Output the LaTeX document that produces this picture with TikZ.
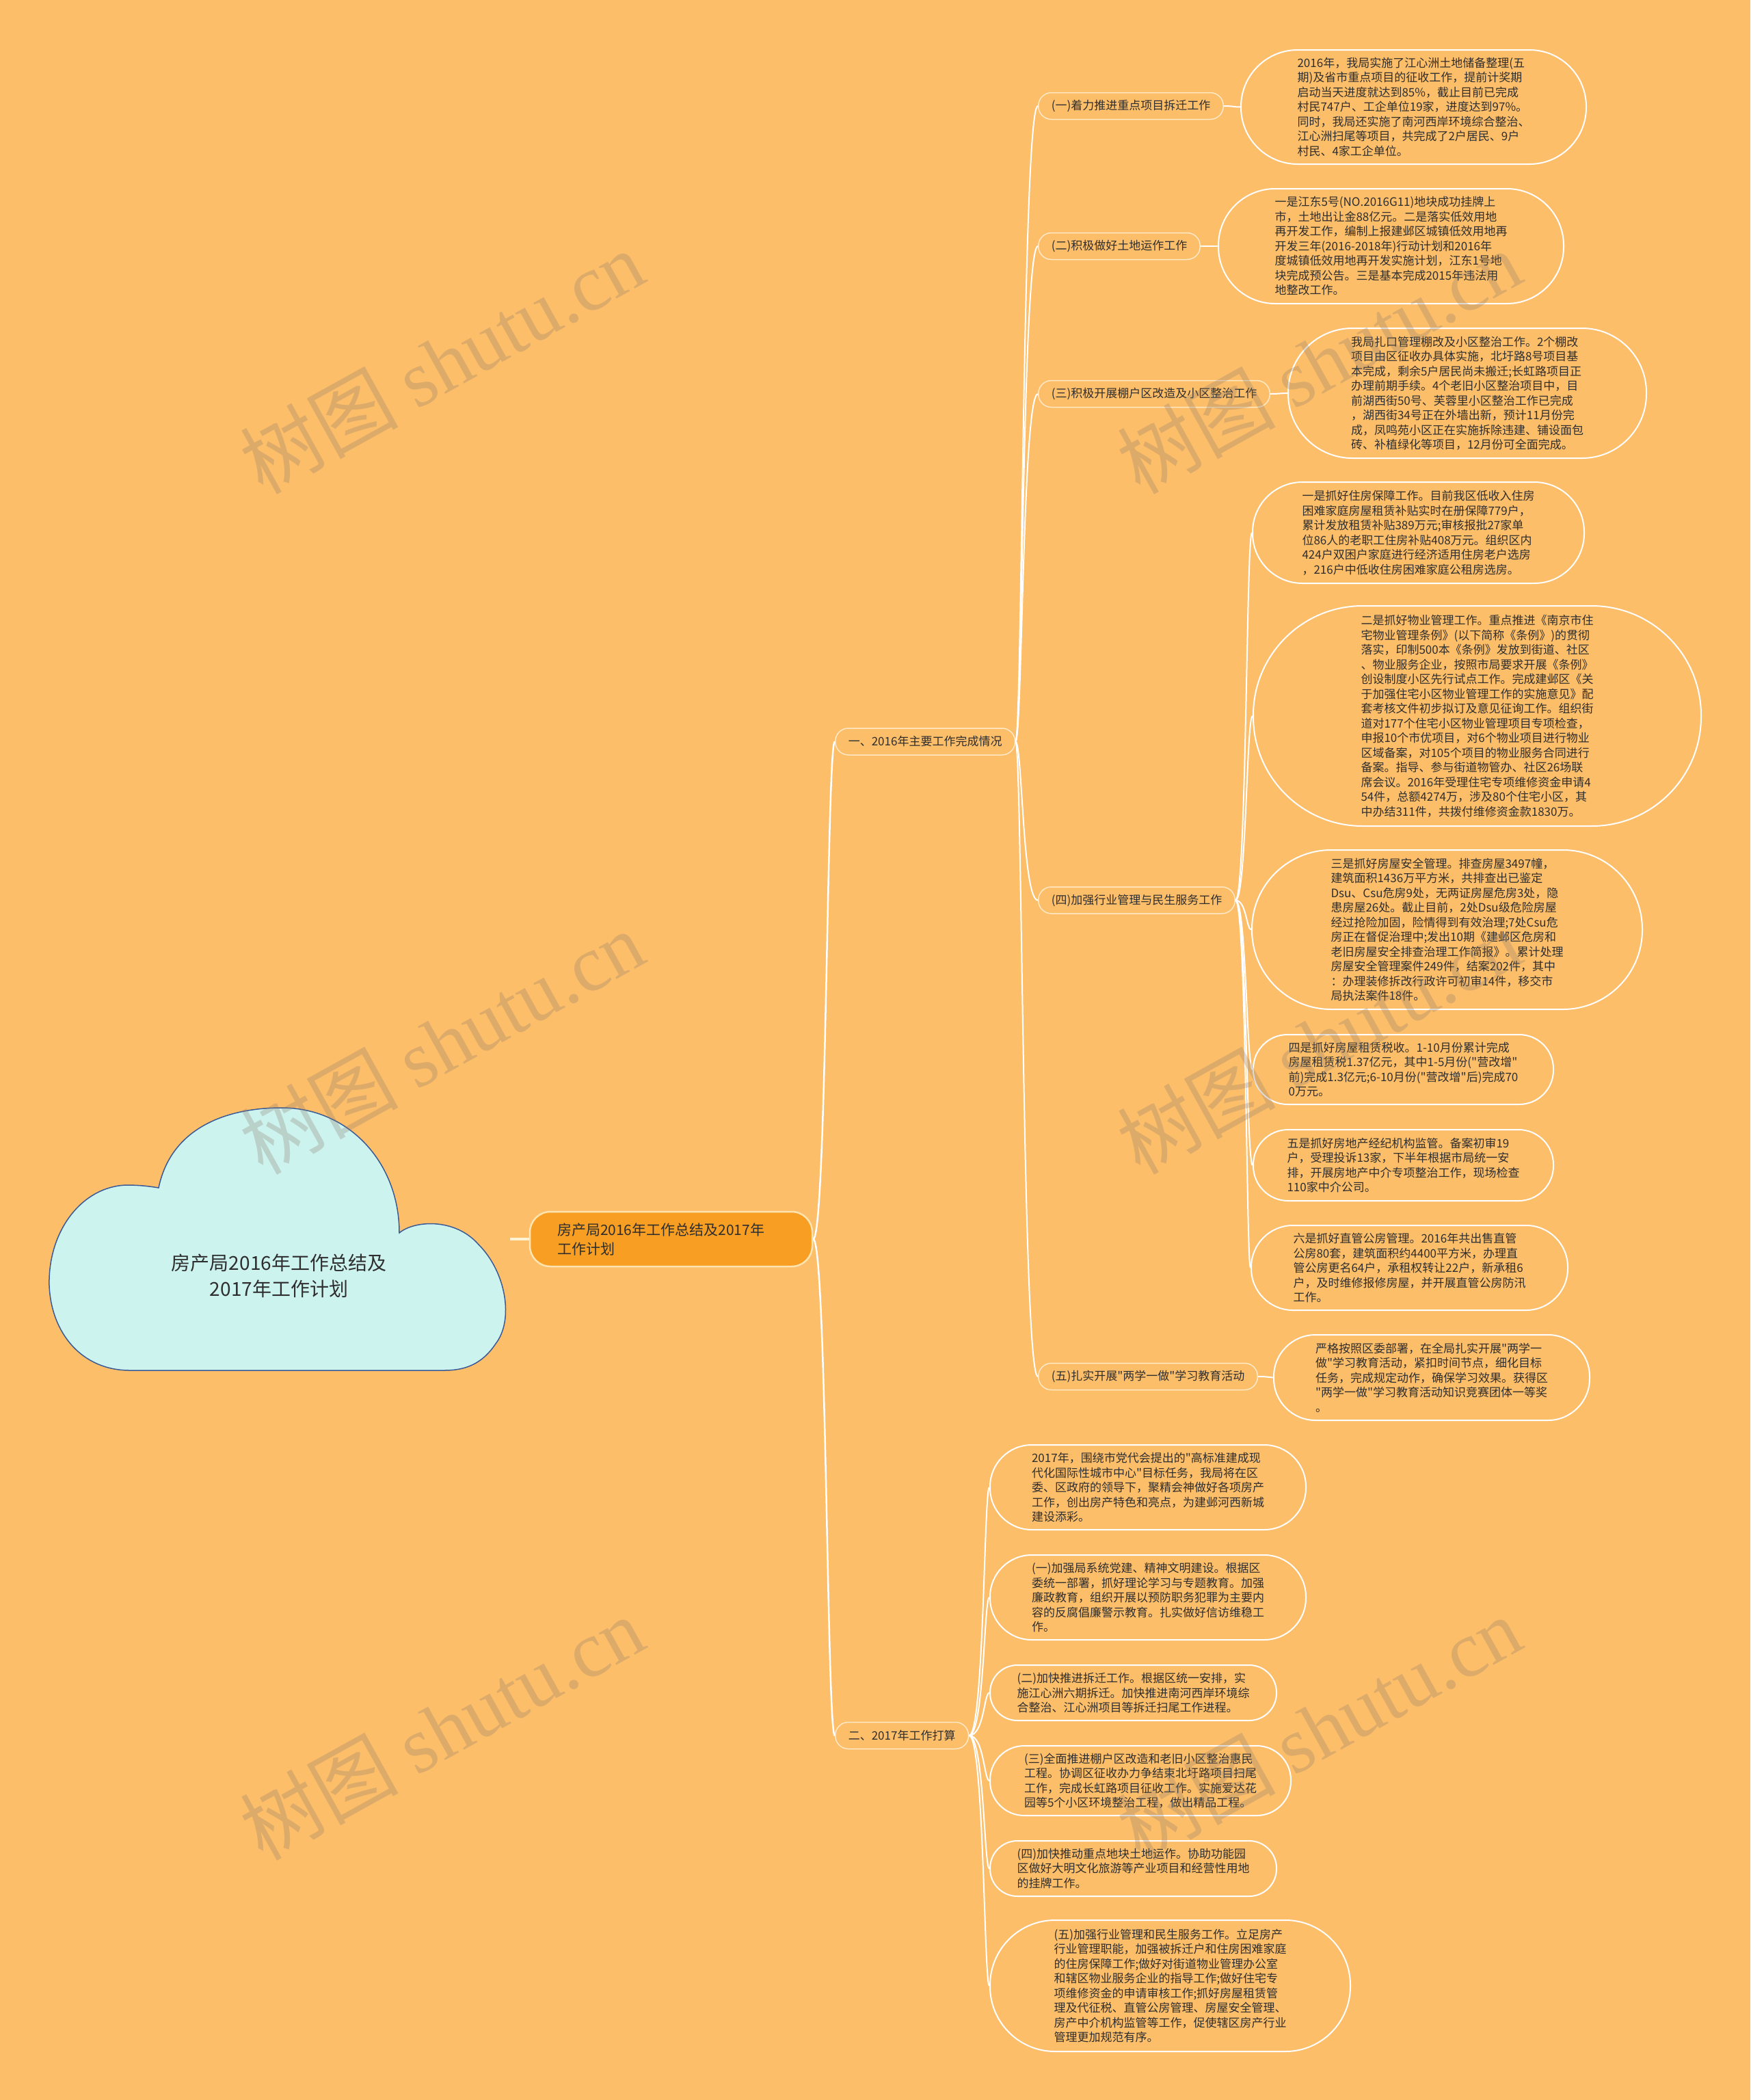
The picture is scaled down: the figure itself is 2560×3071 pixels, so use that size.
\documentclass[tikz,border=0pt]{standalone}
\usepackage{fontspec}
\setmainfont{Noto Sans CJK SC}[Ligatures=TeXOff]
\newfontfamily\wmlatin{Liberation Serif}
\usetikzlibrary{calc}
\definecolor{bg}{HTML}{FDBE6A}
\definecolor{txt}{HTML}{2E2E2E}
\definecolor{cloudfill}{HTML}{CDF3EF}
\definecolor{cloudline}{HTML}{3A5A95}
\definecolor{ctrfill}{HTML}{F89E22}
\definecolor{ctrline}{HTML}{FDE4B0}
\definecolor{labline}{HTML}{FFE9C6}
\definecolor{rootlink}{HTML}{FFF3D6}
\definecolor{wm}{HTML}{8A7A6A}
\tikzset{
  conn/.style={draw=white, line width=2pt},
  link/.style={to path={.. controls ([xshift=#1]\tikztostart) and ([xshift=#1]\tikztostart |- \tikztotarget) .. (\tikztotarget)}},
  leaf/.style={draw=white, line width=2pt, fill=bg, text=txt, align=left, inner sep=0pt,
    font=\fontsize{17pt}{21.5pt}\selectfont},
  lab/.style={draw=labline, line width=1.5pt, fill=bg, rounded corners=19pt,
    minimum height=39pt, inner xsep=19pt, inner ysep=0pt, text=txt, anchor=west,
    font=\fontsize{17pt}{21pt}\selectfont},
  ctr/.style={fill=ctrfill, draw=ctrline, line width=2.5pt, rounded corners=30pt,
    minimum width=413pt, minimum height=80pt, text width=333pt, inner xsep=40pt,
    align=left, text=txt, font=\fontsize{21pt}{28pt}\selectfont},
  roottext/.style={align=center, text=txt, font=\fontsize{28pt}{38pt}\selectfont},
  wmark/.style={rotate=29, text=wm, opacity=0.28, inner sep=0pt,
    font=\fontsize{116pt}{120pt}\selectfont}
}
\begin{document}
\begin{tikzpicture}[x=1pt,y=-1pt]
\useasboundingbox (0,0) rectangle (2560,3071);
\fill[bg] (0,0) rectangle (2560,3071);

% root cloud
\draw[fill=cloudfill, draw=cloudline, line width=1.5pt]
  (232,1737) .. controls (250,1650) and (330,1620) .. (412,1620)
  .. controls (510,1620) and (584,1700) .. (584,1803)
  .. controls (605,1785) and (665,1780) .. (700,1820)
  .. controls (740,1860) and (752,1930) .. (725,1965)
  .. controls (705,1995) and (680,2004) .. (650,2004)
  -- (190,2004)
  .. controls (120,2004) and (75,1950) .. (72,1880)
  .. controls (70,1800) and (120,1735) .. (185,1733)
  .. controls (205,1733) and (220,1735) .. (232,1737) -- cycle;
\node[roottext] (root) at (408,1866) {房产局2016年工作总结及\\2017年工作计划};
\coordinate (rootE) at (746,1812);

% center
\node[ctr] (ctr) at (981.5,1812) {房产局2016年工作总结及2017年\\工作计划};

% main branches
\node[lab] (b1) at (1221,1084.5) {一、2016年主要工作完成情况};
\node[lab] (b2) at (1221,2538) {二、2017年工作打算};

% level 2
\node[lab] (c1) at (1518,155) {(一)着力推进重点项目拆迁工作};
\node[lab] (c2) at (1518,360) {(二)积极做好土地运作工作};
\node[lab] (c3) at (1518,576) {(三)积极开展棚户区改造及小区整治工作};
\node[lab] (c4) at (1518,1316.5) {(四)加强行业管理与民生服务工作};
\node[lab] (c5) at (1518,2013) {(五)扎实开展"两学一做"学习教育活动};

% leaves 2016
\node[leaf, minimum width=505pt, minimum height=167pt, rounded corners=83pt] (l1) at (2067.5,156.5) {2016年，我局实施了江心洲土地储备整理(五\\期)及省市重点项目的征收工作，提前计奖期\\启动当天进度就达到85\%，截止目前已完成\\村民747户、工企单位19家，进度达到97\%。\\同时，我局还实施了南河西岸环境综合整治、\\江心洲扫尾等项目，共完成了2户居民、9户\\村民、4家工企单位。};
\node[leaf, minimum width=505pt, minimum height=168pt, rounded corners=83pt] (l2) at (2034.5,360) {一是江东5号(NO.2016G11)地块成功挂牌上\\市，土地出让金88亿元。二是落实低效用地\\再开发工作，编制上报建邺区城镇低效用地再\\开发三年(2016-2018年)行动计划和2016年\\度城镇低效用地再开发实施计划，江东1号地\\块完成预公告。三是基本完成2015年违法用\\地整改工作。};
\node[leaf, minimum width=524pt, minimum height=190pt, rounded corners=94pt] (l3) at (2146,575) {我局扎口管理棚改及小区整治工作。2个棚改\\项目由区征收办具体实施，北圩路8号项目基\\本完成，剩余5户居民尚未搬迁;长虹路项目正\\办理前期手续。4个老旧小区整治项目中，目\\前湖西街50号、芙蓉里小区整治工作已完成\\，湖西街34号正在外墙出新，预计11月份完\\成，凤鸣苑小区正在实施拆除违建、铺设面包\\砖、补植绿化等项目，12月份可全面完成。};
\node[leaf, minimum width=485pt, minimum height=148pt, rounded corners=73pt] (l4) at (2074.5,779) {一是抓好住房保障工作。目前我区低收入住房\\困难家庭房屋租赁补贴实时在册保障779户，\\累计发放租赁补贴389万元;审核报批27家单\\位86人的老职工住房补贴408万元。组织区内\\424户双困户家庭进行经济适用住房老户选房\\，216户中低收住房困难家庭公租房选房。};
\node[leaf, minimum width=655pt, minimum height=322pt, rounded corners=160pt] (l5) at (2160.5,1047) {二是抓好物业管理工作。重点推进《南京市住\\宅物业管理条例》(以下简称《条例》)的贯彻\\落实，印制500本《条例》发放到街道、社区\\、物业服务企业，按照市局要求开展《条例》\\创设制度小区先行试点工作。完成建邺区《关\\于加强住宅小区物业管理工作的实施意见》配\\套考核文件初步拟订及意见征询工作。组织街\\道对177个住宅小区物业管理项目专项检查，\\申报10个市优项目，对6个物业项目进行物业\\区域备案，对105个项目的物业服务合同进行\\备案。指导、参与街道物管办、社区26场联\\席会议。2016年受理住宅专项维修资金申请4\\54件，总额4274万，涉及80个住宅小区，其\\中办结311件，共拨付维修资金款1830万。};
\node[leaf, minimum width=571pt, minimum height=233pt, rounded corners=116pt] (l6) at (2116.5,1359.5) {三是抓好房屋安全管理。排查房屋3497幢，\\建筑面积1436万平方米，共排查出已鉴定\\Dsu、Csu危房9处，无两证房屋危房3处，隐\\患房屋26处。截止目前，2处Dsu级危险房屋\\经过抢险加固，险情得到有效治理;7处Csu危\\房正在督促治理中;发出10期《建邺区危房和\\老旧房屋安全排查治理工作简报》。累计处理\\房屋安全管理案件249件，结案202件，其中\\：办理装修拆改行政许可初审14件，移交市\\局执法案件18件。};
\node[leaf, minimum width=439pt, minimum height=102pt, rounded corners=50pt] (l7) at (2052.5,1564) {四是抓好房屋租赁税收。1-10月份累计完成\\房屋租赁税1.37亿元，其中1-5月份("营改增"\\前)完成1.3亿元;6-10月份("营改增"后)完成70\\0万元。};
\node[leaf, minimum width=439pt, minimum height=104pt, rounded corners=51pt] (l8) at (2052.5,1704) {五是抓好房地产经纪机构监管。备案初审19\\户，受理投诉13家，下半年根据市局统一安\\排，开展房地产中介专项整治工作，现场检查\\110家中介公司。};
\node[leaf, minimum width=463pt, minimum height=124pt, rounded corners=61pt] (l9) at (2061.5,1854) {六是抓好直管公房管理。2016年共出售直管\\公房80套，建筑面积约4400平方米，办理直\\管公房更名64户，承租权转让22户，新承租6\\户，及时维修报修房屋，并开展直管公房防汛\\工作。};
\node[leaf, minimum width=462pt, minimum height=125pt, rounded corners=61pt] (l10) at (2094,2014.5) {严格按照区委部署，在全局扎实开展"两学一\\做"学习教育活动，紧扣时间节点，细化目标\\任务，完成规定动作，确保学习效果。获得区\\"两学一做"学习教育活动知识竞赛团体一等奖\\。};

% leaves 2017
\node[leaf, minimum width=462pt, minimum height=124pt, rounded corners=61pt] (m1) at (1679,2175) {2017年，围绕市党代会提出的"高标准建成现\\代化国际性城市中心"目标任务，我局将在区\\委、区政府的领导下，聚精会神做好各项房产\\工作，创出房产特色和亮点，为建邺河西新城\\建设添彩。};
\node[leaf, minimum width=462pt, minimum height=124pt, rounded corners=61pt] (m2) at (1679,2336) {(一)加强局系统党建、精神文明建设。根据区\\委统一部署，抓好理论学习与专题教育。加强\\廉政教育，组织开展以预防职务犯罪为主要内\\容的反腐倡廉警示教育。扎实做好信访维稳工\\作。};
\node[leaf, minimum width=419pt, minimum height=81pt, rounded corners=40pt] (m3) at (1657.5,2475.5) {(二)加快推进拆迁工作。根据区统一安排，实\\施江心洲六期拆迁。加快推进南河西岸环境综\\合整治、江心洲项目等拆迁扫尾工作进程。};
\node[leaf, minimum width=440pt, minimum height=102pt, rounded corners=50pt] (m4) at (1668,2604) {(三)全面推进棚户区改造和老旧小区整治惠民\\工程。协调区征收办力争结束北圩路项目扫尾\\工作，完成长虹路项目征收工作。实施爱达花\\园等5个小区环境整治工程，做出精品工程。};
\node[leaf, minimum width=419pt, minimum height=81pt, rounded corners=40pt] (m5) at (1657.5,2732.5) {(四)加快推动重点地块土地运作。协助功能园\\区做好大明文化旅游等产业项目和经营性用地\\的挂牌工作。};
\node[leaf, minimum width=527pt, minimum height=192pt, rounded corners=95pt] (m6) at (1711.5,2904) {(五)加强行业管理和民生服务工作。立足房产\\行业管理职能，加强被拆迁户和住房困难家庭\\的住房保障工作;做好对街道物业管理办公室\\和辖区物业服务企业的指导工作;做好住宅专\\项维修资金的申请审核工作;抓好房屋租赁管\\理及代征税、直管公房管理、房屋安全管理、\\房产中介机构监管等工作，促使辖区房产行业\\管理更加规范有序。};

% connectors
\draw[draw=rootlink, line width=3.5pt] (rootE) -- (ctr.west);
\draw[conn, line width=2.5pt, link=20pt] (ctr.east) to (b1.west);
\draw[conn, line width=2.5pt, link=20pt] (ctr.east) to (b2.west);
\foreach \n in {c1,c2,c3,c4,c5} {
  \draw[conn, link=10pt] (b1.east) to (\n.west);
}
\draw[conn, link=14pt] (c1.east) to (l1.west);
\draw[conn, link=14pt] (c2.east) to (l2.west);
\draw[conn, link=14pt] (c3.east) to (l3.west);
\foreach \n in {l4,l5,l6,l7,l8,l9} {
  \draw[conn, link=16pt] (c4.east) to (\n.west);
}
\draw[conn, link=16pt] (c5.east) to (l10.west);
\foreach \n in {m1,m2,m3,m4,m5,m6} {
  \draw[conn, link=22pt] (b2.east) to (\n.west);
}

% watermarks
\foreach \wx/\wy [count=\i] in {646/529, 1929/529, 646/1524, 1929/1524, 646/2527, 1929/2527} {
  \node[wmark] (wm\i) at (\wx,\wy) {树图 {\wmlatin shutu.cn}};
}
\end{tikzpicture}
\end{document}
